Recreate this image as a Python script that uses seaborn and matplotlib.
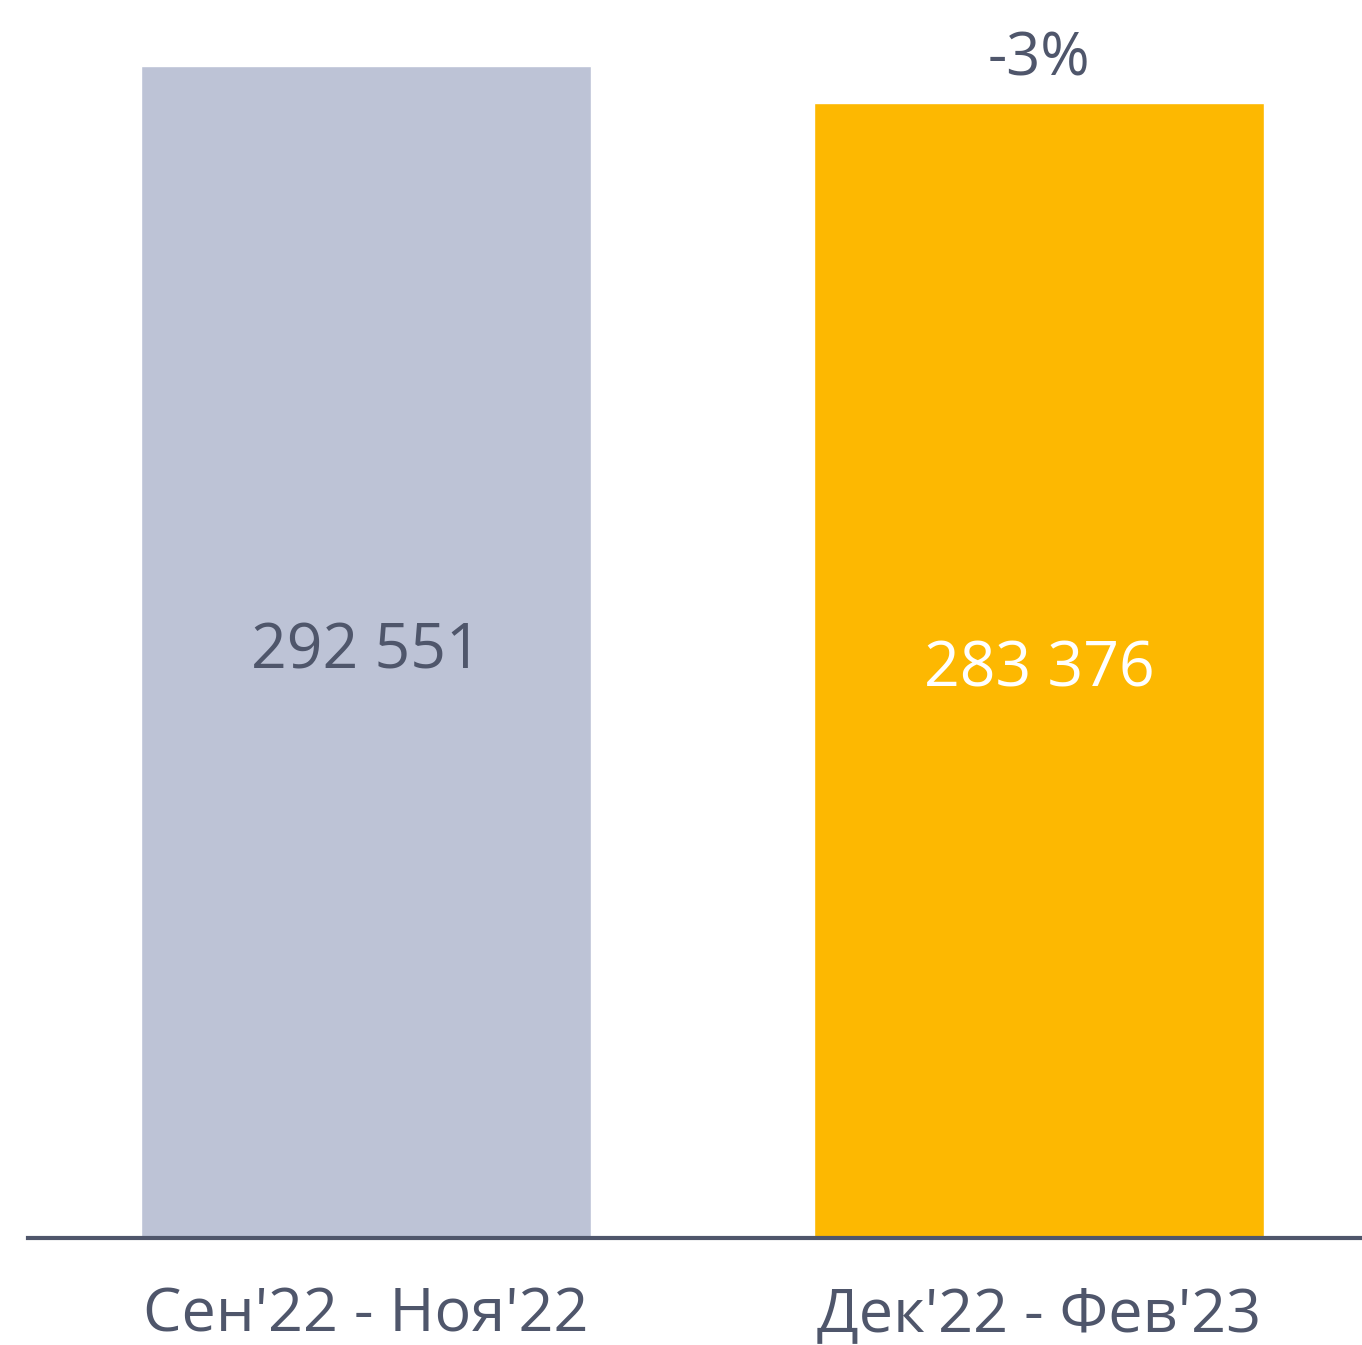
import pandas as pd
import seaborn as sns
import matplotlib.pyplot as plt

# Chart values
periods = ["Сен'22 - Ноя'22", "Дек'22 - Фев'23"]
values = [292551, 283376]
value_labels = ["292 551", "283 376"]
change_label = "-3%"

bar_colors = ["#bdc3d6", "#fdb801"]
label_colors = ["#4f566b", "#ffffff"]
text_color = "#4f566b"

df = pd.DataFrame({"period": periods, "value": values})

sns.set_theme(style="white")
plt.rcParams["font.family"] = ["Open Sans", "DejaVu Sans"]

fig = plt.figure(figsize=(13.62, 13.45), dpi=100)
ax = fig.add_axes([28 / 1362, (1345 - 1238) / 1345, 1334 / 1362, 1238 / 1345])

sns.barplot(data=df, x="period", y="value", hue="period", palette=bar_colors,
            width=450 / 673, legend=False, ax=ax, saturation=1)

ax.set_xlim(-338 / 673, 996 / 673)
ax.set_ylim(0, values[0] * 1238 / 1172)

# value labels in middle of bars
for i, (v, lab) in enumerate(zip(values, value_labels)):
    ax.text(i, v / 2, lab, ha="center", va="center", fontsize=45,
            color=label_colors[i])

# change label above second bar
ax.text(1, values[1] + 6800, change_label, ha="center", va="baseline",
        fontsize=43, color=text_color)

for s in ["top", "right", "left"]:
    ax.spines[s].set_visible(False)
ax.spines["bottom"].set_color(text_color)
ax.spines["bottom"].set_linewidth(3)
ax.set_yticks([])
ax.set_xlabel("")
ax.set_ylabel("")
ax.tick_params(axis="x", length=0, pad=34, labelsize=44, labelcolor=text_color)

fig.savefig("out.png", dpi=100)
